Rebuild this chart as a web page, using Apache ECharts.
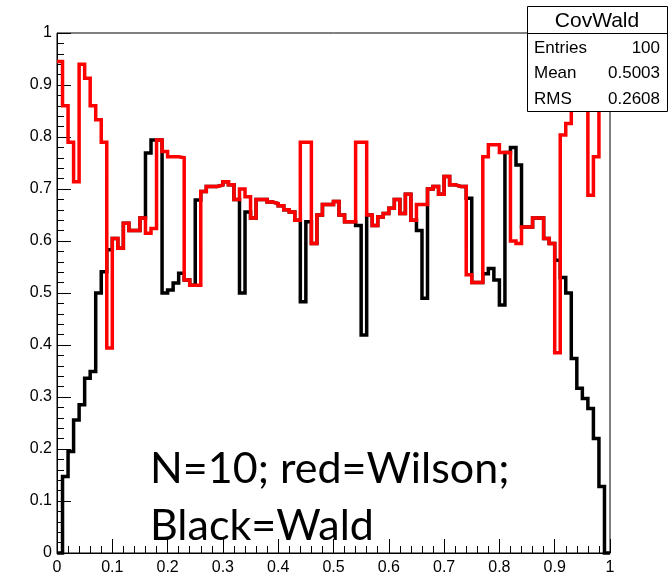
<!DOCTYPE html>
<html><head><meta charset="utf-8">
<script src="https://cdn.jsdelivr.net/npm/echarts@6/dist/echarts.min.js"></script>
<style>html,body{margin:0;padding:0;background:#fff;}#c{width:669px;height:580px;}</style>
</head><body><div id="c"></div>
<script>
// ---- data ----
const binLow = 0, binHigh = 1, nBins = 100;
const wilson = [
0.945,0.86,0.79,0.714,0.94,0.913,0.86,0.833,0.79,0.394,
0.605,0.586,0.634,0.62,0.62,0.644,0.615,0.624,0.794,0.772,
0.762,0.762,0.76,0.525,0.515,0.515,0.695,0.705,0.705,0.708,
0.714,0.708,0.68,0.70,0.685,0.644,0.68,0.68,0.675,0.672,
0.668,0.66,0.656,0.64,0.79,0.79,0.595,0.65,0.67,0.67,
0.676,0.65,0.637,0.637,0.79,0.79,0.65,0.63,0.646,0.653,
0.663,0.68,0.653,0.69,0.64,0.67,0.67,0.70,0.705,0.69,
0.724,0.708,0.705,0.705,0.535,0.52,0.52,0.762,0.785,0.785,
0.77,0.77,0.60,0.595,0.627,0.627,0.644,0.644,0.605,0.595,
0.385,0.804,0.826,0.852,0.894,0.929,0.688,0.762,0.878,0.942];
const wald = [
0,0.147,0.195,0.256,0.285,0.336,0.349,0.50,0.541,0.583,
0.605,0.586,0.634,0.62,0.62,0.644,0.769,0.794,0.794,0.50,
0.506,0.519,0.538,0.525,0.515,0.679,0.695,0.705,0.705,0.708,
0.714,0.708,0.68,0.50,0.656,0.644,0.68,0.68,0.675,0.672,
0.668,0.66,0.656,0.64,0.483,0.637,0.595,0.65,0.67,0.67,
0.676,0.65,0.637,0.637,0.63,0.419,0.65,0.63,0.646,0.653,
0.663,0.68,0.653,0.69,0.64,0.62,0.49,0.70,0.705,0.69,
0.724,0.708,0.705,0.705,0.682,0.52,0.52,0.537,0.547,0.525,
0.477,0.77,0.78,0.746,0.627,0.627,0.644,0.644,0.605,0.595,
0.563,0.53,0.50,0.374,0.317,0.297,0.278,0.22,0.128,0];
const xTickLabels = ['0','0.1','0.2','0.3','0.4','0.5','0.6','0.7','0.8','0.9','1'];
const yTickLabels = ['0','0.1','0.2','0.3','0.4','0.5','0.6','0.7','0.8','0.9','1'];
const statsTitle = 'CovWald';
const statsNames = ['Entries','Mean','RMS'];
const statsValues = ['100','0.5003','0.2608'];
const noteLines = ['N=10; red=Wilson;','Black=Wald'];

// ---- build step data from bins ----
function histPoints(vals){
  const w = (binHigh-binLow)/nBins;
  const pts = vals.map((v,i)=>[binLow+i*w, v]);
  pts.push([binHigh, vals[vals.length-1]]);
  return pts;
}
const lab = (arr)=> (v)=> arr[Math.round(v*10)];
const FONT = '"Liberation Sans", Arial, sans-serif';

const chart = echarts.init(document.getElementById('c'), null, {renderer:'canvas'});
const G = {left:57, top:33, right:59, bottom:27};
const graphics = [];
// stats box
graphics.push({type:'rect', shape:{x:527.5,y:6.5,width:140,height:105}, style:{fill:'#fff',stroke:'#000',lineWidth:1}, z:100});
graphics.push({type:'line', shape:{x1:527.5,y1:33.5,x2:667.5,y2:33.5}, style:{stroke:'#000',lineWidth:1}, z:101});
graphics.push({type:'text', x:597, y:21, style:{text:statsTitle, font:'21px '+FONT, fill:'#000', align:'center', verticalAlign:'middle'}, z:102});
statsNames.forEach((n,i)=>{
  graphics.push({type:'text', x:534, y:48+i*25.5, style:{text:n, font:'17px '+FONT, fill:'#000', align:'left', verticalAlign:'middle'}, z:102});
  graphics.push({type:'text', x:660, y:48+i*25.5, style:{text:statsValues[i], font:'17px '+FONT, fill:'#000', align:'right', verticalAlign:'middle'}, z:102});
});
noteLines.forEach((t,i)=>{
  graphics.push({type:'text', x:150, y:448+i*57, style:{text:t, font:'43px Lato, "Open Sans", sans-serif', fill:'#000', align:'left', verticalAlign:'alphabetic'}, z:102});
});

chart.setOption({
  animation:false,
  backgroundColor:'#fff',
  grid:{left:G.left, top:G.top, right:G.right, bottom:G.bottom, show:true, borderColor:'#000', borderWidth:1, backgroundColor:'transparent'},
  xAxis:{type:'value', min:0, max:1, interval:0.1,
    axisLine:{show:true, onZero:false, lineStyle:{color:'#000', width:1}},
    axisTick:{show:true, inside:true, length:14, lineStyle:{color:'#000'}},
    minorTick:{show:true, splitNumber:5, length:7, lineStyle:{color:'#000'}},
    splitLine:{show:false},
    axisLabel:{formatter:lab(xTickLabels), color:'#000', fontFamily:FONT, fontSize:16, margin:7, showMinLabel:true, showMaxLabel:true}},
  yAxis:{type:'value', min:0, max:1, interval:0.1,
    axisLine:{show:true, onZero:false, lineStyle:{color:'#000', width:1}},
    axisTick:{show:true, inside:true, length:14, lineStyle:{color:'#000'}},
    minorTick:{show:true, splitNumber:5, length:7, lineStyle:{color:'#000'}},
    splitLine:{show:false},
    axisLabel:{formatter:lab(yTickLabels), color:'#000', fontFamily:FONT, fontSize:16, margin:5, showMinLabel:true, showMaxLabel:true}},
  series:[
    {name:'Wald', type:'line', step:'end', data:histPoints(wald), showSymbol:false, symbol:'none', clip:false,
     lineStyle:{color:'#000', width:3.5, join:'miter', cap:'butt'}, z:2},
    {name:'Wilson', type:'line', step:'end', data:histPoints(wilson), showSymbol:false, symbol:'none', clip:false,
     lineStyle:{color:'#ff0000', width:3.5, join:'miter', cap:'butt'}, z:3}
  ],
  graphic:graphics
});
</script></body></html>
